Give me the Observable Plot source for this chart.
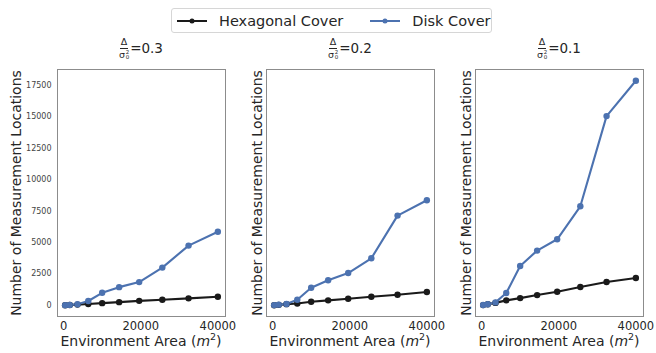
<!DOCTYPE html>
<html>
<head>
<meta charset="utf-8">
<script src="https://cdn.jsdelivr.net/npm/d3@7"></script>
<script src="https://cdn.jsdelivr.net/npm/@observablehq/plot@0.6"></script>
<style>
  html, body { margin: 0; padding: 0; background: #fff; }
  #root { position: relative; width: 656px; height: 353px; font-family: "DejaVu Sans", sans-serif; color: #262626; overflow: hidden; }
  #root svg { position: absolute; top: 0; background: none; overflow: visible; }
  .legend { position: absolute; left: 171px; top: 8px; width: 321px; height: 25px; border: 1px solid #d6d6d6; border-radius: 3px; box-sizing: border-box; display: flex; align-items: center; font-size: 14.5px; }
  .legend .item { display: flex; align-items: center; }
  .legend svg { position: static !important; }
  .title { position: absolute; top: 37px; text-align: center; font-size: 13.5px; white-space: nowrap; color: #262626; }
  .frac { display: inline-flex; flex-direction: column; align-items: center; vertical-align: middle; font-size: 9.5px; line-height: 1; margin-right: 1px; }
  .frac .num { border-bottom: 0.8px solid #262626; padding: 0 1px 1px 1px; }
  .frac .den { padding-top: 1px; display: inline-flex; align-items: center; }
  .ss { display: inline-flex; flex-direction: column; font-size: 5.5px; line-height: 1; margin-left: 0.5px; }
  .xlabel { position: absolute; top: 333px; text-align: center; font-size: 14px; white-space: nowrap; }
  .xlabel sup { font-size: 9.5px; line-height: 0; }
</style>
</head>
<body>
<div id="root"></div>
<script>
// ---- data ----
const areas = [400, 1600, 3600, 6400, 10000, 14400, 19600, 25600, 32400, 40000];
const hex03  = [8, 30, 65, 110, 180, 260, 360, 450, 560, 690];
const disk03 = [20, 40, 90, 350, 1000, 1450, 1850, 3000, 4750, 5850];
const hex02  = [15, 45, 100, 150, 290, 400, 530, 690, 850, 1060];
const disk02 = [25, 60, 110, 450, 1400, 2000, 2570, 3740, 7130, 8350];
const hex01  = [25, 90, 200, 400, 580, 820, 1090, 1460, 1860, 2180];
const disk01 = [30, 90, 240, 980, 3130, 4350, 5250, 7870, 15030, 17840];
const ratios = ["0.3", "0.2", "0.1"];
const seriesNames = ["Hexagonal Cover", "Disk Cover"];
const yTicks = [0, 2500, 5000, 7500, 10000, 12500, 15000, 17500];
const xTicks = [0, 20000, 40000];
const yLabel = "Number of Measurement Locations";
const xLabelText = "Environment Area (";

const colors = { "Hexagonal Cover": "#1a1a1a", "Disk Cover": "#4c72b0" };
const panels = [
  { ratio: ratios[0], hex: hex03, disk: disk03, frameLeft: 57, showY: true },
  { ratio: ratios[1], hex: hex02, disk: disk02, frameLeft: 266, showY: false },
  { ratio: ratios[2], hex: hex01, disk: disk01, frameLeft: 475, showY: false }
];
const frameW = 168, frameTop = 69, frameH = 247, H = 353;

const root = document.getElementById("root");

// legend
const legend = document.createElement("div");
legend.className = "legend";
seriesNames.forEach((name, i) => {
  const it = document.createElement("div");
  it.className = "item";
  it.style.marginLeft = i === 0 ? "5px" : "27px";
  const sw = d3.create("svg").attr("width", 30).attr("height", 10);
  sw.append("line").attr("x1", 0).attr("x2", 30).attr("y1", 5).attr("y2", 5).attr("stroke", colors[name]).attr("stroke-width", 2);
  sw.append("circle").attr("cx", 15).attr("cy", 5).attr("r", 2.5).attr("fill", colors[name]);
  it.appendChild(sw.node());
  const t = document.createElement("span");
  t.textContent = name;
  t.style.marginLeft = "12px";
  it.appendChild(t);
  legend.appendChild(it);
});
root.appendChild(legend);

panels.forEach((p) => {
  const ml = p.showY ? 57 : 40;
  const rows = [];
  areas.forEach((a, i) => rows.push({ area: a, n: p.hex[i], s: seriesNames[0] }));
  areas.forEach((a, i) => rows.push({ area: a, n: p.disk[i], s: seriesNames[1] }));
  const chart = Plot.plot({
    width: ml + frameW + 2,
    height: H,
    marginLeft: ml,
    marginRight: 2,
    marginTop: frameTop,
    marginBottom: H - frameTop - frameH,
    style: { fontFamily: "DejaVu Sans, sans-serif", background: "none", overflow: "visible" },
    x: { domain: [-1580, 41980] },
    y: { domain: [-881, 18731] },
    color: { domain: seriesNames, range: seriesNames.map(s => colors[s]) },
    marks: [
      Plot.frame({ stroke: "#8c8c8c", strokeWidth: 1 }),
      Plot.axisX({ ticks: xTicks, tickSize: 0, tickPadding: 5, fontSize: 11.5, label: null, fill: "#262626", tickFormat: d => String(d) }),
      p.showY
        ? Plot.axisY({ ticks: yTicks, tickSize: 0, tickPadding: 6, fontSize: 8, label: null, tickFormat: d => String(d), fill: "#444" })
        : Plot.axisY({ ticks: [], label: null }),
      Plot.line(rows, { x: "area", y: "n", z: "s", stroke: "s", strokeWidth: 2.1 }),
      Plot.dot(rows, { x: "area", y: "n", fill: "s", r: 3.2 }),
      Plot.text([yLabel], { frameAnchor: "left", textAnchor: "middle", lineAnchor: "middle", rotate: -90, dx: p.showY ? -41 : -9, fontSize: 14, fill: "#262626", text: d => d })
    ]
  });
  chart.style.left = (p.frameLeft - ml) + "px";
  root.appendChild(chart);

  // title
  const title = document.createElement("div");
  title.className = "title";
  title.style.left = p.frameLeft + "px";
  title.style.width = frameW + "px";
  title.innerHTML = '<span class="frac"><span class="num">Δ</span><span class="den">σ<span class="ss"><span>2</span><span>0</span></span></span></span>=' + p.ratio;
  root.appendChild(title);

  // x label
  const xl = document.createElement("div");
  xl.className = "xlabel";
  xl.style.left = p.frameLeft + "px";
  xl.style.width = frameW + "px";
  xl.innerHTML = xLabelText + '<i>m</i><sup>2</sup>)';
  root.appendChild(xl);
});
</script>
</body>
</html>
